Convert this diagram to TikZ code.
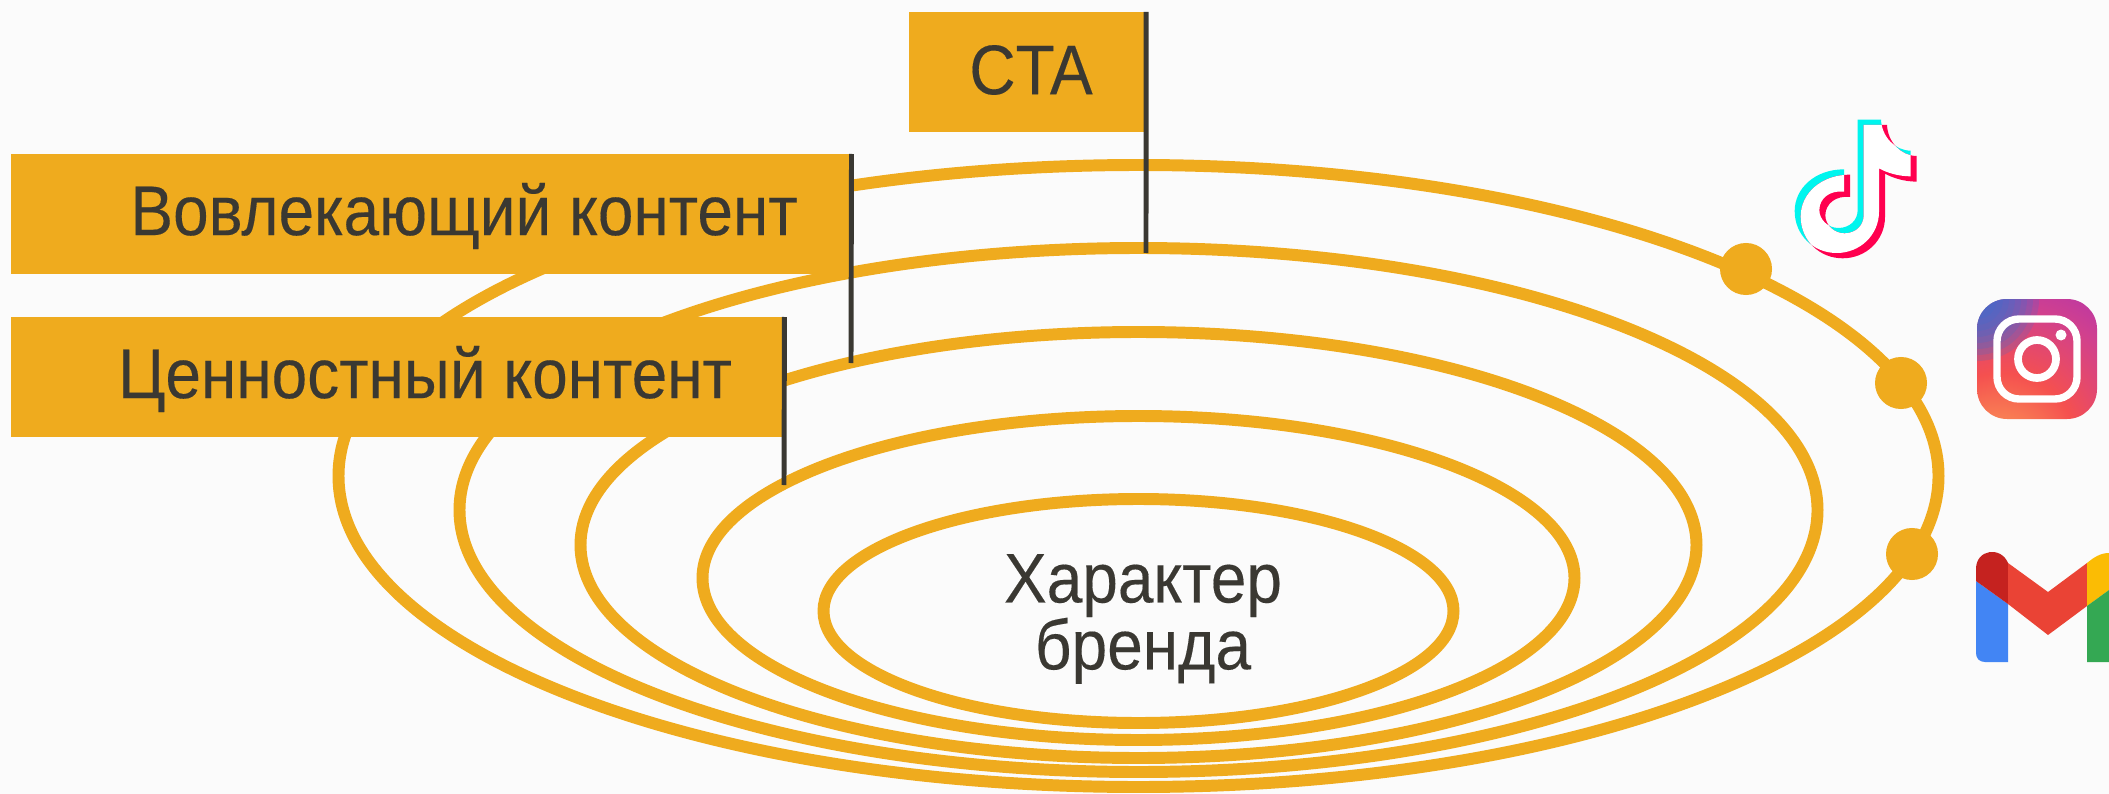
\documentclass[tikz,border=0pt]{standalone}
\usepackage{fontspec}
\setmainfont[FakeStretch=0.91,FakeBold=0.2]{Liberation Sans}
\definecolor{bgcol}{HTML}{FBFBFB}
\definecolor{gold}{HTML}{EFAB1E}
\definecolor{ink}{HTML}{3A3832}
\definecolor{igblue}{HTML}{3A6FD0}
\definecolor{igpurple}{HTML}{A62FB8}
\definecolor{igpink}{HTML}{D0408F}
\definecolor{igred}{HTML}{F5504F}
\definecolor{igyellow}{HTML}{FFD95E}
\definecolor{ttcyan}{HTML}{00F5EE}
\definecolor{ttred}{HTML}{FF004F}
\definecolor{gmblue}{HTML}{4285F4}
\definecolor{gmdark}{HTML}{C5221F}
\definecolor{gmred}{HTML}{EA4335}
\definecolor{gmyellow}{HTML}{FBBC04}
\definecolor{gmgreen}{HTML}{34A853}
\pgfdeclareradialshading{igshade}{\pgfpoint{-20bp}{-50bp}}{color(0bp)=(igyellow); color(12bp)=(igyellow!50!igred); color(32bp)=(igred); color(52bp)=(igpink); color(72bp)=(igpurple); color(130bp)=(igpurple)}
\newcommand{\notepath}{(473,59) -- (543,59) .. controls (545,110) and (585,152) .. (632,152) -- (632,229) .. controls (595,229) and (560,218) .. (537,205) -- (537,335) .. controls (537,405) and (480,459) .. (410,459) .. controls (340,459) and (284,405) .. (284,333) .. controls (284,265) and (345,208) .. (432,208) -- (432,275) .. controls (390,270) and (358,295) .. (358,330) .. controls (358,360) and (385,384) .. (415,384) .. controls (450,384) and (473,360) .. (473,330) -- cycle}
\tikzset{
  ring/.style={draw=gold, line width=3.4pt},
  tagbox/.style={fill=gold, inner sep=0pt, outer sep=0pt, anchor=north west, minimum height=1.2cm},
  tagtext/.style={text=ink, inner sep=0pt, font=\fontsize{20}{19}\selectfont, align=center},
  pole/.style={draw=ink, line width=1.4pt},
  dot/.style={circle, fill=gold, inner sep=0pt, minimum size=0.52cm}
}
\begin{document}
\begin{tikzpicture}[x=0.01cm, y=-0.01cm]
  \useasboundingbox[fill=bgcol] (0,0) rectangle (2109,794);
  \draw[ring] (1138.5,476) ellipse [x radius=800, y radius=311];
  \draw[ring] (1138.5,510) ellipse [x radius=679, y radius=262];
  \draw[ring] (1138.5,545) ellipse [x radius=558, y radius=213];
  \draw[ring] (1138.5,578) ellipse [x radius=436, y radius=162];
  \draw[ring] (1138.5,611) ellipse [x radius=315, y radius=112];

  \node[tagbox, minimum width=2.37cm] (cta) at (909,12) {};
  \node[tagbox, minimum width=8.40cm] (engage) at (11,154) {};
  \node[tagbox, minimum width=7.73cm] (value) at (11,317) {};
  \node[tagtext] (ctatext) at (1031,70) {CTA};
  \node[tagtext] (engagetext) at (464,216) {Вовлекающий контент};
  \node[tagtext] (valuetext) at (425,379) {Ценностный контент};
  \node[tagtext] (core) at (1143,619) {Характер\\бренда};

  \coordinate (ctaend) at (1146,253);
  \coordinate (engageend) at (851,363);
  \coordinate (valueend) at (784,485);
  \draw[pole] (cta.north east) -- (ctaend);
  \draw[pole] (engage.north east) -- (engageend);
  \draw[pole] (value.north east) -- (valueend);

  \node[dot] (tiktokdot) at (1746,269) {};
  \node[dot] (instadot) at (1901,383) {};
  \node[dot] (maildot) at (1912,554) {};

  \begin{scope}[shift={(1700,100)}, scale=1/3]
    \fill[ttcyan] \notepath;
  \end{scope}
  \begin{scope}[shift={(1706,105.3)}, scale=1/3]
    \fill[ttred] \notepath;
  \end{scope}
  \begin{scope}[shift={(1700,100)}, scale=1/3]
    \clip \notepath;
    \fill[white, shift={(18,16)}] \notepath;
  \end{scope}

  \shade[shading=igshade, rounded corners=0.3cm] (1977,299) rectangle (2097,419);
  \begin{scope}
    \clip[rounded corners=0.3cm] (1977,299) rectangle (2097,419);
    \foreach \r in {14,20,...,62}
      \fill[igblue, opacity=0.2] (1977,299) circle [radius=\r];
  \end{scope}
  \draw[white, line width=2.1pt, rounded corners=0.22cm] (1997,319) rectangle (2077,399);
  \draw[white, line width=2.2pt] (2037,359) circle [radius=19];
  \fill[white] (2061,335) circle [radius=5.5];

  \fill[gmblue] (1976,581) -- (2008,604) -- (2008,662) -- (1985,662) .. controls (1979,662) and (1976,658) .. (1976,653) -- cycle;
  \fill[gmdark] (1976,581) -- (1976,569) .. controls (1976,549) and (2001,546) .. (2008,563) -- (2008,604) -- cycle;
  \fill[gmred] (2008,563) -- (2048,592) -- (2087,563) -- (2087,606) -- (2048,635) -- (2008,604) -- cycle;
  \fill[gmyellow] (2087,563) .. controls (2093,558) and (2100,553) .. (2109,553) -- (2109,590) -- (2087,606) -- cycle;
  \fill[gmgreen] (2087,606) -- (2109,590) -- (2109,662) -- (2087,662) -- cycle;
\end{tikzpicture}
\end{document}
